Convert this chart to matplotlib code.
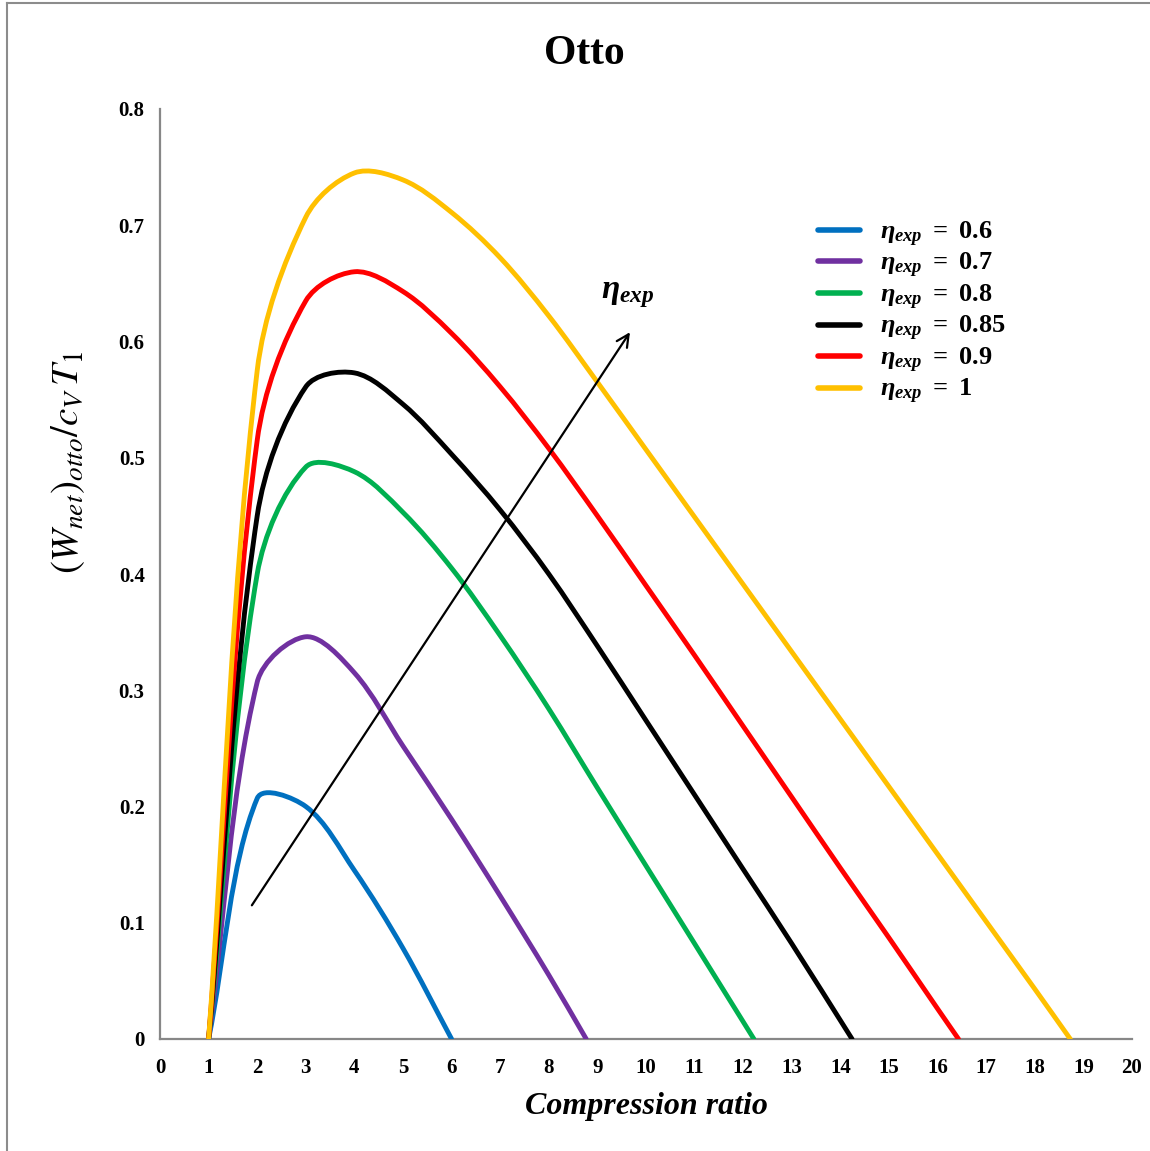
import numpy as np
import matplotlib
matplotlib.use("Agg")
import matplotlib.pyplot as plt
from matplotlib.path import Path
from matplotlib.patches import PathPatch
from matplotlib.lines import Line2D

plt.rcParams['mathtext.fontset'] = 'custom'
plt.rcParams['mathtext.it'] = 'Liberation Serif:italic:bold'
plt.rcParams['mathtext.rm'] = 'Liberation Serif:bold'
plt.rcParams['mathtext.bf'] = 'Liberation Serif:bold'

# ---- data ----
eta_labels = ["0.6", "0.7", "0.8", "0.85", "0.9", "1"]
colors = ["#0070C0", "#7030A0", "#00B050", "#000000", "#FF0000", "#FFC000"]

x_06 = [1, 2, 3, 4, 5, 6]
y_06 = [0, 0.207, 0.200, 0.145, 0.078, 0]

x_07 = [1, 2, 3, 4, 5, 6, 7, 8, 8.77]
y_07 = [0, 0.307, 0.346, 0.315, 0.252, 0.189, 0.123, 0.055, 0]

x_08 = [1, 2, 3, 4, 5, 6, 7, 8, 9, 10, 11, 12.22]
y_08 = [0, 0.400, 0.492, 0.488, 0.453, 0.405, 0.347, 0.284, 0.216, 0.149, 0.082, 0]

x_085 = [1, 2, 3, 4, 5, 6, 7, 8, 9, 10, 11, 12, 13, 14.24]
y_085 = [0, 0.450, 0.561, 0.573, 0.546, 0.503, 0.455, 0.400, 0.338, 0.274, 0.210, 0.146, 0.082, 0]

x_09 = [1, 2, 3, 4, 5, 6, 7, 8, 9, 10, 11, 12, 13, 14, 15, 16, 16.43]
y_09 = [0, 0.515, 0.635, 0.660, 0.643, 0.607, 0.561, 0.508, 0.450, 0.390, 0.330, 0.269, 0.208, 0.147, 0.087, 0.026, 0]

x_10 = [1, 2, 3, 4, 5, 6, 7, 8, 9, 10, 11, 12, 13, 14, 15, 16, 17, 18, 18.73]
y_10 = [0, 0.575, 0.707, 0.745, 0.739, 0.711, 0.672, 0.622, 0.565, 0.507, 0.449, 0.391, 0.333, 0.275, 0.217, 0.159, 0.101, 0.043, 0]

series_x = [x_06, x_07, x_08, x_085, x_09, x_10]
series_y = [y_06, y_07, y_08, y_085, y_09, y_10]

x_ticks = list(range(0, 21))
y_ticks = [0, 0.1, 0.2, 0.3, 0.4, 0.5, 0.6, 0.7, 0.8]
y_ticklabels = ["0", "0.1", "0.2", "0.3", "0.4", "0.5", "0.6", "0.7", "0.8"]

arrow_start = (1.89, 0.115)
arrow_end = (9.67, 0.608)


def smooth_path(ax, xs, ys):
    """Excel-like smoothed line: cubic Bezier segments with tangents weighted
    by neighbouring segment lengths (computed in display space)."""
    pts = ax.transData.transform(np.column_stack([xs, ys]).astype(float))
    n = len(pts)
    verts = [pts[0]]
    codes = [Path.MOVETO]
    seg = [np.hypot(*(pts[i + 1] - pts[i])) for i in range(n - 1)]
    for i in range(n - 1):
        p1, p2 = pts[i], pts[i + 1]
        L = seg[i]
        if i > 0:
            c1 = p1 + (p2 - pts[i - 1]) * L / (seg[i - 1] + L) / 3.0
        else:
            c1 = p1 + (p2 - p1) / 3.0
        if i < n - 2:
            c2 = p2 - (pts[i + 2] - p1) * L / (L + seg[i + 1]) / 3.0
        else:
            c2 = p2 - (p2 - p1) / 3.0
        verts += [c1, c2, p2]
        codes += [Path.CURVE4] * 3
    verts = ax.transData.inverted().transform(np.array(verts))
    return Path(verts, codes)


W, H = 1150, 1151
fig = plt.figure(figsize=(W / 100, H / 100), dpi=100)
ax = fig.add_axes([160 / W, 112 / H, 972 / W, 930 / H])
ax.set_xlim(0, 20)
ax.set_ylim(0, 0.8)

handles = []
for xs, ys, c, lab in zip(series_x, series_y, colors, eta_labels):
    patch = PathPatch(smooth_path(ax, xs, ys), facecolor='none', edgecolor=c,
                      lw=3.5, capstyle='round', joinstyle='round', zorder=3)
    ax.add_patch(patch)
    handles.append(Line2D([0], [0], color=c, lw=4, solid_capstyle='round',
                          label=r'$\eta_{exp}\ =\ ' + lab + '$'))

ax.annotate('', xy=arrow_end, xytext=arrow_start,
            arrowprops=dict(arrowstyle='->', lw=1.6, color='black',
                            mutation_scale=22, shrinkA=0, shrinkB=0), zorder=5)
ax.text(9.63, 0.641, r'$\eta_{exp}$', fontsize=24, ha='center', va='center')

for s in ['top', 'right']:
    ax.spines[s].set_visible(False)
for s in ['left', 'bottom']:
    ax.spines[s].set_color('#878787')
    ax.spines[s].set_linewidth(1.6)

ax.set_xticks(x_ticks)
ax.set_xticklabels([str(v) for v in x_ticks])
ax.set_yticks(y_ticks)
ax.set_yticklabels(y_ticklabels)
ax.tick_params(axis='y', length=0, pad=11)
ax.tick_params(axis='x', length=0, pad=14)
for lbl in ax.get_xticklabels() + ax.get_yticklabels():
    lbl.set_fontfamily('Liberation Serif')
    lbl.set_fontweight('bold')
    lbl.set_fontsize(15)

ax.set_xlabel('Compression ratio', fontfamily='Liberation Serif',
              fontweight='bold', fontstyle='italic', fontsize=23, labelpad=10)
ax.set_ylabel(r'$(W_{net})_{otto}/c_V\,T_1$', fontsize=28,
              math_fontfamily='stix')
ax.yaxis.set_label_coords(-0.075, 0.62)

fig.text(0.508, 0.953, 'Otto', fontfamily='Liberation Serif', fontweight='bold',
         fontsize=30, ha='center', va='center')

leg = ax.legend(handles=handles, loc='upper left',
                bbox_to_anchor=(818 / W, 1 - 219 / H), bbox_transform=fig.transFigure,
                frameon=False, fontsize=19, handlelength=1.6, handletextpad=0.75,
                labelspacing=0.075, borderpad=0, borderaxespad=0)

# figure border (top and left visible in the crop)
fig.add_artist(Line2D([7 / W, 7 / W], [0, 1 - 3 / H], transform=fig.transFigure,
                      color='#8c8c8c', lw=1.5))
fig.add_artist(Line2D([7 / W, 1], [1 - 3 / H, 1 - 3 / H], transform=fig.transFigure,
                      color='#8c8c8c', lw=1.5))

fig.savefig('out.png', dpi=100)
